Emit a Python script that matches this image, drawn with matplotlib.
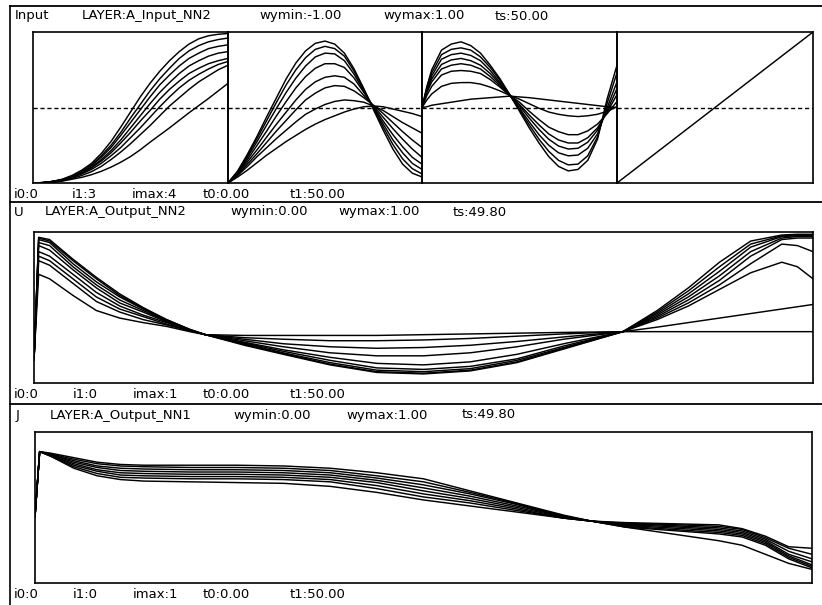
import matplotlib
matplotlib.use("Agg")
import matplotlib.pyplot as plt

# ---------------- data ----------------
HEADER_INPUT = ["Input", "LAYER:A_Input_NN2", "wymin:-1.00", "wymax:1.00", "ts:50.00"]
FOOTER_INPUT = ["i0:0", "i1:3", "imax:4", "t0:0.00", "t1:50.00"]
HEADER_U = ["U", "LAYER:A_Output_NN2", "wymin:0.00", "wymax:1.00", "ts:49.80"]
FOOTER_U = ["i0:0", "i1:0", "imax:1", "t0:0.00", "t1:50.00"]
HEADER_J = ["J", "LAYER:A_Output_NN1", "wymin:0.00", "wymax:1.00", "ts:49.80"]
FOOTER_J = ["i0:0", "i1:0", "imax:1", "t0:0.00", "t1:50.00"]

# Input layer, sub-panel 1
S1_X = [0.0, 0.05, 0.1, 0.15, 0.2, 0.25, 0.3, 0.35, 0.4, 0.45, 0.5,
        0.55, 0.6, 0.65, 0.7, 0.75, 0.8, 0.85, 0.9, 0.95, 1.0]
S1_CURVES = [
    [-1.00, -0.995, -0.98, -0.95, -0.90, -0.83, -0.74, -0.61, -0.45, -0.26, -0.06, 0.14, 0.32, 0.48, 0.62, 0.74, 0.84, 0.91, 0.95, 0.97, 0.98],
    [-1.00, -0.995, -0.98, -0.955, -0.91, -0.85, -0.76, -0.64, -0.50, -0.33, -0.14, 0.04, 0.22, 0.38, 0.52, 0.65, 0.75, 0.82, 0.87, 0.90, 0.92],
    [-1.00, -0.995, -0.98, -0.955, -0.91, -0.85, -0.77, -0.66, -0.53, -0.37, -0.20, -0.03, 0.14, 0.30, 0.43, 0.55, 0.65, 0.72, 0.78, 0.81, 0.83],
    [-1.00, -0.995, -0.98, -0.96, -0.92, -0.86, -0.79, -0.69, -0.57, -0.43, -0.27, -0.11, 0.05, 0.20, 0.33, 0.45, 0.55, 0.62, 0.68, 0.72, 0.74],
    [-1.00, -0.995, -0.98, -0.96, -0.92, -0.87, -0.80, -0.71, -0.60, -0.47, -0.33, -0.18, -0.04, 0.11, 0.24, 0.35, 0.45, 0.52, 0.58, 0.62, 0.65],
    [-1.00, -0.995, -0.98, -0.96, -0.93, -0.88, -0.82, -0.74, -0.64, -0.53, -0.40, -0.27, -0.13, 0.01, 0.14, 0.26, 0.36, 0.44, 0.51, 0.57, 0.61],
    [-1.00, -0.997, -0.99, -0.97, -0.94, -0.90, -0.85, -0.78, -0.69, -0.59, -0.48, -0.36, -0.24, -0.11, 0.02, 0.13, 0.24, 0.34, 0.42, 0.50, 0.56],
    [-1.00, -0.997, -0.99, -0.975, -0.95, -0.925, -0.89, -0.845, -0.79, -0.725, -0.65, -0.56, -0.46, -0.365, -0.27, -0.17, -0.07, 0.025, 0.12, 0.22, 0.32],
]

# Input layer, sub-panel 2
S2_X = [0.0, 0.05, 0.1, 0.15, 0.2, 0.25, 0.3, 0.35, 0.4, 0.45, 0.5,
        0.55, 0.6, 0.65, 0.7, 0.75, 0.8, 0.85, 0.9, 0.95, 1.0]
S2_CURVES = [
    [-1.00, -0.84, -0.62, -0.38, -0.12, 0.13, 0.38, 0.59, 0.75, 0.85, 0.88, 0.84, 0.72, 0.51, 0.25, -0.03, -0.30, -0.55, -0.75, -0.87, -0.92],
    [-1.00, -0.85, -0.64, -0.41, -0.17, 0.07, 0.30, 0.50, 0.66, 0.77, 0.81, 0.78, 0.68, 0.48, 0.24, -0.01, -0.26, -0.49, -0.68, -0.81, -0.88],
    [-1.00, -0.86, -0.66, -0.45, -0.23, -0.01, 0.20, 0.39, 0.55, 0.67, 0.72, 0.71, 0.62, 0.44, 0.22, 0.00, -0.22, -0.43, -0.60, -0.74, -0.82],
    [-1.00, -0.87, -0.69, -0.50, -0.31, -0.11, 0.08, 0.26, 0.41, 0.52, 0.58, 0.58, 0.53, 0.39, 0.20, 0.01, -0.18, -0.36, -0.52, -0.66, -0.75],
    [-1.00, -0.88, -0.72, -0.56, -0.39, -0.22, -0.06, 0.10, 0.24, 0.34, 0.40, 0.42, 0.40, 0.31, 0.16, 0.02, -0.13, -0.28, -0.42, -0.55, -0.66],
    [-1.00, -0.89, -0.75, -0.61, -0.46, -0.31, -0.17, -0.03, 0.10, 0.19, 0.26, 0.29, 0.28, 0.22, 0.13, 0.03, -0.08, -0.20, -0.32, -0.43, -0.53],
    [-1.00, -0.90, -0.78, -0.65, -0.53, -0.41, -0.30, -0.19, -0.09, -0.02, 0.04, 0.08, 0.10, 0.09, 0.07, 0.02, -0.04, -0.12, -0.20, -0.27, -0.34],
    [-1.00, -0.92, -0.83, -0.73, -0.63, -0.54, -0.45, -0.37, -0.29, -0.22, -0.16, -0.11, -0.06, -0.02, 0.01, 0.02, 0.01, -0.02, -0.05, -0.08, -0.12],
]

# Input layer, sub-panel 3
S3_X = [0.0, 0.025, 0.05, 0.1, 0.15, 0.2, 0.25, 0.3, 0.35, 0.4, 0.45, 0.5,
        0.55, 0.6, 0.65, 0.7, 0.75, 0.8, 0.85, 0.9, 0.95, 1.0]
S3_CURVES = [
    [0.00, 0.28, 0.50, 0.76, 0.84, 0.87, 0.82, 0.72, 0.56, 0.38, 0.17, -0.05, -0.27, -0.47, -0.65, -0.78, -0.84, -0.82, -0.70, -0.42, 0.12, 0.56],
    [0.00, 0.26, 0.46, 0.70, 0.77, 0.79, 0.76, 0.67, 0.53, 0.36, 0.17, -0.03, -0.23, -0.42, -0.58, -0.70, -0.76, -0.75, -0.64, -0.39, 0.06, 0.46],
    [0.00, 0.24, 0.42, 0.64, 0.70, 0.72, 0.69, 0.62, 0.49, 0.33, 0.16, -0.01, -0.19, -0.36, -0.50, -0.60, -0.64, -0.63, -0.54, -0.35, 0.00, 0.34],
    [0.00, 0.22, 0.38, 0.57, 0.63, 0.65, 0.62, 0.56, 0.45, 0.31, 0.16, 0.02, -0.14, -0.29, -0.42, -0.51, -0.55, -0.54, -0.46, -0.30, -0.04, 0.25],
    [0.00, 0.20, 0.34, 0.51, 0.56, 0.58, 0.56, 0.51, 0.41, 0.29, 0.16, 0.04, -0.10, -0.23, -0.35, -0.43, -0.47, -0.47, -0.40, -0.27, -0.06, 0.17],
    [0.00, 0.16, 0.28, 0.43, 0.48, 0.49, 0.48, 0.45, 0.37, 0.27, 0.16, 0.07, -0.05, -0.16, -0.26, -0.32, -0.36, -0.36, -0.31, -0.22, -0.08, 0.08],
    [0.00, 0.10, 0.18, 0.28, 0.32, 0.33, 0.33, 0.31, 0.27, 0.22, 0.16, 0.11, 0.05, -0.01, -0.06, -0.09, -0.11, -0.12, -0.11, -0.09, -0.05, 0.01],
    [0.00, 0.01, 0.03, 0.05, 0.07, 0.09, 0.11, 0.12, 0.13, 0.14, 0.15, 0.14, 0.13, 0.115, 0.10, 0.085, 0.07, 0.055, 0.04, 0.025, 0.01, 0.00],
]

# Input layer, sub-panel 4
S4_X = [0.0, 1.0]
S4_Y = [-1.0, 1.0]

# Output U
U_T = [0, 0.3, 1, 2.5, 4, 5.5, 7, 8.5, 10, 11, 13.5, 16, 19, 22, 25, 28, 31, 34, 37.8,
       40, 42, 44, 46, 48, 49, 50]
U_CURVES = [
    [0.155, 0.72, 0.69, 0.58, 0.48, 0.43, 0.40, 0.375, 0.34, 0.32, 0.315, 0.315, 0.315, 0.315, 0.32, 0.325, 0.33, 0.335, 0.34, 0.34, 0.34, 0.34, 0.34, 0.34, 0.34, 0.34],
    [0.155, 0.81, 0.78, 0.66, 0.54, 0.47, 0.42, 0.385, 0.345, 0.32, 0.30, 0.29, 0.28, 0.28, 0.285, 0.295, 0.31, 0.325, 0.34, 0.37, 0.40, 0.43, 0.46, 0.49, 0.505, 0.52],
    [0.155, 0.84, 0.81, 0.69, 0.57, 0.49, 0.44, 0.39, 0.35, 0.32, 0.29, 0.26, 0.24, 0.23, 0.235, 0.25, 0.275, 0.305, 0.34, 0.42, 0.51, 0.62, 0.73, 0.80, 0.77, 0.69],
    [0.155, 0.87, 0.84, 0.72, 0.60, 0.51, 0.45, 0.40, 0.35, 0.32, 0.28, 0.24, 0.20, 0.18, 0.18, 0.20, 0.24, 0.29, 0.34, 0.43, 0.53, 0.65, 0.79, 0.92, 0.91, 0.87],
    [0.155, 0.91, 0.88, 0.75, 0.63, 0.53, 0.47, 0.405, 0.35, 0.32, 0.27, 0.22, 0.17, 0.13, 0.12, 0.14, 0.19, 0.26, 0.34, 0.44, 0.55, 0.68, 0.84, 0.95, 0.96, 0.96],
    [0.155, 0.93, 0.91, 0.77, 0.65, 0.55, 0.48, 0.41, 0.35, 0.32, 0.265, 0.21, 0.15, 0.10, 0.09, 0.11, 0.16, 0.245, 0.34, 0.45, 0.57, 0.71, 0.87, 0.96, 0.97, 0.97],
    [0.155, 0.95, 0.93, 0.79, 0.67, 0.57, 0.49, 0.415, 0.353, 0.32, 0.26, 0.20, 0.135, 0.085, 0.075, 0.095, 0.15, 0.235, 0.34, 0.46, 0.59, 0.74, 0.90, 0.97, 0.975, 0.975],
    [0.155, 0.96, 0.94, 0.81, 0.69, 0.58, 0.495, 0.42, 0.355, 0.32, 0.255, 0.195, 0.125, 0.075, 0.065, 0.085, 0.14, 0.23, 0.34, 0.47, 0.61, 0.77, 0.92, 0.975, 0.98, 0.98],
    [0.155, 0.965, 0.95, 0.82, 0.70, 0.59, 0.50, 0.42, 0.355, 0.32, 0.25, 0.19, 0.12, 0.07, 0.06, 0.08, 0.135, 0.225, 0.34, 0.48, 0.63, 0.80, 0.94, 0.98, 0.985, 0.985],
]

# Output J
J_T = [0, 0.3, 1, 2.5, 4, 5.5, 7, 10, 13, 16, 19, 22, 25, 28, 31, 34, 35.8, 38, 40,
       42, 44, 45.5, 47, 48.5, 50]
J_CURVES = [
    [0.44, 0.87, 0.86, 0.83, 0.80, 0.785, 0.78, 0.78, 0.78, 0.775, 0.76, 0.73, 0.69, 0.61, 0.53, 0.45, 0.41, 0.40, 0.395, 0.39, 0.385, 0.36, 0.31, 0.24, 0.23],
    [0.44, 0.87, 0.855, 0.82, 0.79, 0.775, 0.77, 0.765, 0.765, 0.76, 0.745, 0.71, 0.67, 0.60, 0.525, 0.445, 0.41, 0.395, 0.39, 0.383, 0.375, 0.355, 0.30, 0.23, 0.19],
    [0.44, 0.87, 0.85, 0.81, 0.775, 0.76, 0.755, 0.75, 0.75, 0.745, 0.73, 0.695, 0.65, 0.59, 0.52, 0.44, 0.41, 0.39, 0.385, 0.375, 0.365, 0.345, 0.29, 0.21, 0.16],
    [0.44, 0.87, 0.85, 0.80, 0.765, 0.745, 0.74, 0.735, 0.735, 0.73, 0.715, 0.68, 0.63, 0.575, 0.51, 0.44, 0.41, 0.385, 0.378, 0.367, 0.355, 0.335, 0.28, 0.19, 0.14],
    [0.44, 0.87, 0.845, 0.79, 0.75, 0.73, 0.725, 0.72, 0.72, 0.715, 0.70, 0.665, 0.61, 0.56, 0.50, 0.435, 0.41, 0.38, 0.37, 0.358, 0.345, 0.325, 0.27, 0.18, 0.12],
    [0.44, 0.87, 0.845, 0.78, 0.74, 0.715, 0.71, 0.705, 0.705, 0.70, 0.685, 0.645, 0.59, 0.545, 0.49, 0.43, 0.41, 0.375, 0.362, 0.348, 0.335, 0.315, 0.26, 0.17, 0.11],
    [0.44, 0.87, 0.84, 0.77, 0.725, 0.70, 0.695, 0.69, 0.69, 0.685, 0.67, 0.625, 0.57, 0.53, 0.48, 0.43, 0.41, 0.37, 0.355, 0.34, 0.325, 0.305, 0.25, 0.16, 0.10],
    [0.44, 0.87, 0.84, 0.76, 0.71, 0.685, 0.675, 0.67, 0.665, 0.66, 0.64, 0.60, 0.55, 0.51, 0.47, 0.43, 0.41, 0.37, 0.34, 0.31, 0.28, 0.25, 0.19, 0.13, 0.09],
]

# ---------------- layout ----------------
W, H = 822, 605
fig = plt.figure(figsize=(W / 100, H / 100), dpi=100)
FONT = dict(family="DejaVu Sans", fontsize=9.5, color="black")
LW = 1.05


def ax_px(x0, y0, x1, y1):
    ax = fig.add_axes([x0 / W, 1 - y1 / H, (x1 - x0) / W, (y1 - y0) / H])
    ax.set_xticks([])
    ax.set_yticks([])
    for s in ax.spines.values():
        s.set_linewidth(1.2)
        s.set_color("black")
    ax.patch.set_alpha(0)
    return ax


overlay = fig.add_axes([0, 0, 1, 1])
overlay.set_xlim(0, W)
overlay.set_ylim(H, 0)
overlay.axis("off")

# frame lines
overlay.plot([10, 10], [6, 605], color="black", lw=1.2)
for yy in (6, 202, 404):
    overlay.plot([10, 822], [yy, yy], color="black", lw=1.3)


def put_texts(labels, xs, y):
    for s, x in zip(labels, xs):
        overlay.text(x, y, s, ha="left", va="center", **FONT)


put_texts(HEADER_INPUT, [15, 82, 259, 383, 495], 16)
put_texts(FOOTER_INPUT, [14, 72, 132, 203, 290], 194)
put_texts(HEADER_U, [14, 45, 230, 338, 453], 212)
put_texts(FOOTER_U, [14, 73, 133, 203, 290], 394)
put_texts(HEADER_J, [16, 50, 233, 346, 462], 415)
put_texts(FOOTER_J, [14, 73, 133, 203, 290], 595)

# Input panel: four sub-panels
bounds = [33, 228, 422, 617, 813]
families = [(S1_X, S1_CURVES), (S2_X, S2_CURVES), (S3_X, S3_CURVES), (S4_X, [S4_Y])]
for i, (xs, curves) in enumerate(families):
    ax = ax_px(bounds[i], 32, bounds[i + 1], 183)
    ax.set_xlim(0, 1)
    ax.set_ylim(-1, 1)
    ax.axhline(0, color="black", lw=1.0, ls=(0, (3, 2)))
    for c in curves:
        ax.plot(xs, c, color="black", lw=LW)

# Output U
axu = ax_px(34, 232, 813, 383)
axu.set_xlim(0, 50)
axu.set_ylim(0, 1)
for c in U_CURVES:
    axu.plot(U_T, c, color="black", lw=LW)

# Output J
axj = ax_px(35, 432, 812, 583)
axj.set_xlim(0, 50)
axj.set_ylim(0, 1)
for c in J_CURVES:
    axj.plot(J_T, c, color="black", lw=LW)

fig.savefig("out.png", dpi=100)
